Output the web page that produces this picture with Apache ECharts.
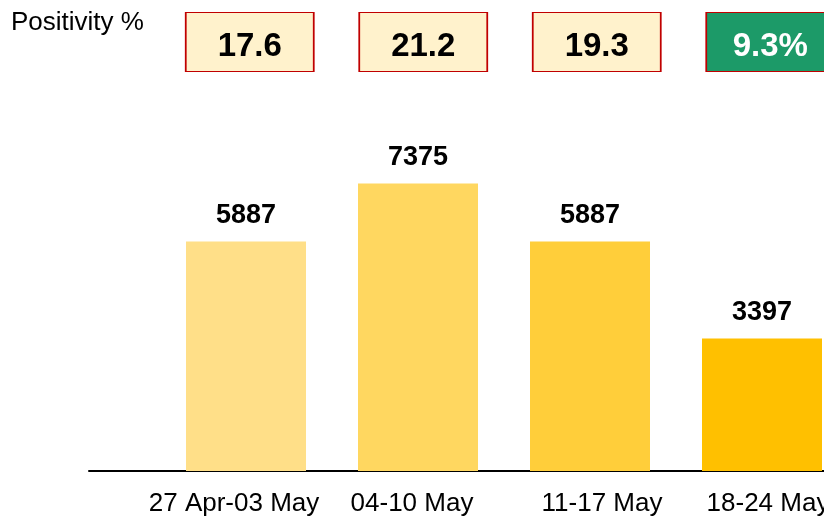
<!DOCTYPE html>
<html>
<head>
<meta charset="utf-8">
<script src="https://cdn.jsdelivr.net/npm/echarts@6/dist/echarts.min.js"></script>
<style>
  html, body { margin: 0; padding: 0; background: #fff; }
  #chart { width: 824px; height: 518px; }
</style>
</head>
<body>
<div id="chart"></div>
<script>
// weekly data
const weeks = ['27 Apr-03 May', '04-10 May', '11-17 May', '18-24 May']
const tests = [5887, 7375, 5887, 3397]
const positivity = [17.6, 21.2, 19.3, 9.3]

const barColors = ['#FFDF88', '#FFD760', '#FFCE3A', '#FFC000']
const boxColors = ['#FFF2CC', '#FFF2CC', '#FFF2CC', '#1C9A68']
const boxText = ['#000', '#000', '#000', '#fff']
// small nudges so the x labels sit like the original
const labelShift = [-12, -6, 12, 6]

const font = 'Liberation Sans, Arial, sans-serif'

const chart = echarts.init(document.getElementById('chart'), null, { renderer: 'canvas' })

const option = {
  animation: false,
  backgroundColor: '#fff',
  graphic: [
    {
      type: 'text',
      left: 11,
      top: 10,
      style: { text: 'Positivity %', font: '26px ' + font, fill: '#000' }
    }
  ],
  grid: [
    // bars
    { left: 160, top: 81, width: 688, bottom: 47, outerBoundsMode: 'none' },
    // baseline only
    { left: 89, right: 0, top: 81, bottom: 47, outerBoundsMode: 'none' },
    // positivity boxes
    { left: 163, top: 12, width: 694, height: 60, outerBoundsMode: 'none' }
  ],
  xAxis: [
    {
      gridIndex: 0,
      type: 'category',
      data: weeks,
      axisLine: { show: false },
      axisTick: { show: false },
      axisLabel: {
        interval: 0,
        hideOverlap: false,
        margin: 20,
        fontFamily: font,
        fontSize: 26,
        color: '#000',
        formatter: (v, i) => '{s' + i + '|' + v + '}',
        rich: Object.fromEntries(labelShift.map((d, i) => [
          's' + i,
          { fontFamily: font, fontSize: 26, color: '#000',
            padding: d < 0 ? [0, -2 * d, 0, 0] : [0, 0, 0, 2 * d] }
        ]))
      }
    },
    {
      gridIndex: 1,
      type: 'value',
      min: 0,
      max: 1,
      axisLine: { show: true, onZero: false, lineStyle: { color: '#000', width: 2 } },
      axisTick: { show: false },
      axisLabel: { show: false },
      splitLine: { show: false }
    },
    {
      gridIndex: 2,
      type: 'category',
      data: weeks,
      show: false
    }
  ],
  yAxis: [
    { gridIndex: 0, type: 'value', min: 0, max: 10000, show: false },
    { gridIndex: 1, type: 'value', min: 0, max: 1, show: false },
    { gridIndex: 2, type: 'value', min: 0, max: 1, show: false }
  ],
  series: [
    {
      type: 'bar',
      xAxisIndex: 0,
      yAxisIndex: 0,
      barWidth: 120,
      data: tests.map((v, i) => ({ value: v, itemStyle: { color: barColors[i] } })),
      label: {
        show: true,
        position: 'top',
        distance: 12,
        fontFamily: font,
        fontSize: 27,
        fontWeight: 'bold',
        color: '#000'
      }
    },
    {
      type: 'scatter',
      xAxisIndex: 2,
      yAxisIndex: 2,
      symbol: 'rect',
      symbolSize: [128, 59],
      clip: false,
      itemStyle: { opacity: 1 },
      data: positivity.map((v, i) => ({
        value: [i, 0.5],
        itemStyle: { color: boxColors[i], borderColor: '#C00000', borderWidth: 1.2, opacity: 1 },
        label: { color: boxText[i] }
      })),
      label: {
        show: true,
        position: 'inside',
        offset: [0, 5],
        fontFamily: font,
        fontSize: 33,
        fontWeight: 'bold',
        formatter: (p) => positivity[p.dataIndex] + (p.dataIndex === positivity.length - 1 ? '%' : '')
      }
    }
  ]
}

chart.setOption(option)
</script>
</body>
</html>
